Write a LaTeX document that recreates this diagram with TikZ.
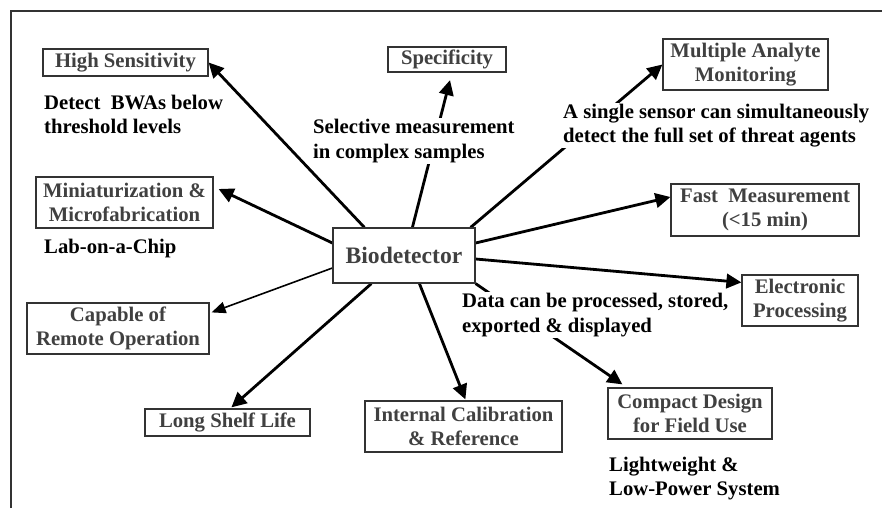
\documentclass[tikz,border=0pt]{standalone}
\usepackage{fontspec}
\setmainfont{Liberation Serif}
\usetikzlibrary{arrows.meta,calc,backgrounds}
\definecolor{boxgray}{gray}{0.2}
\definecolor{boxtext}{gray}{0.25}
\definecolor{framec}{gray}{0.2}
\begin{document}
\begin{tikzpicture}[x=1pt,y=-1pt,
  box/.style={draw=boxgray, line width=1.2pt, fill=white, inner sep=0pt, align=center, text=boxtext, font=\bfseries\fontsize{20.7}{24.5}\selectfont},
  note/.style={anchor=west, align=left, inner sep=1pt, font=\bfseries\fontsize{20.7}{24.5}\selectfont, text=black},
  gap/.style={fill=white},
  arr/.style={-{Triangle[length=15pt,width=14.5pt]}, line width=2.8pt},
  thinarr/.style={-{Triangle[length=14pt,width=11.5pt]}, line width=1.6pt}]
\useasboundingbox (0,0) rectangle (882,508);
\draw[framec, line width=1.5pt] (11,508) -- (11,11) -- (882,11);

% boxes
\node[box, minimum width=165pt, minimum height=27pt] (hs) at (125.5,62.5) {High Sensitivity};
\node[box, minimum width=118pt, minimum height=25pt] (spec) at (447,59.5) {Specificity};
\node[box, minimum width=165pt, minimum height=51pt] (multi) at (745.5,64.5) {Multiple Analyte\\Monitoring};
\node[box, minimum width=177pt, minimum height=51pt] (mini) at (124.5,202.5) {Miniaturization \&\\Microfabrication};
\node[box, minimum width=142pt, minimum height=55pt, font=\bfseries\fontsize{23.6}{27}\selectfont] (bio) at (404,255.5) {Biodetector};
\node[box, minimum width=188pt, minimum height=52pt] (fast) at (765,210) {Fast~ Measurement\\(<15 min)};
\node[box, minimum width=116pt, minimum height=51pt] (elec) at (800,300.5) {Electronic\\Processing};
\node[box, minimum width=182pt, minimum height=51pt] (cap) at (118,328.5) {Capable of\\Remote Operation};
\node[box, minimum width=165pt, minimum height=27pt] (lsl) at (227.5,422.5) {Long Shelf Life};
\node[box, minimum width=197pt, minimum height=51pt] (ical) at (463.5,426.5) {Internal Calibration\\\& Reference};
\node[box, minimum width=164pt, minimum height=51pt] (comp) at (690,413.5) {Compact Design\\for Field Use};

% notes
\node[note] (n1) at (43,114.5) {Detect~ BWAs below\\threshold levels};
\node[note, gap] (n2) at (312,141) {Selective measurement\\in complex samples};
\node[note, gap] (n3) at (562,125.5) {A single sensor can simultaneously\\detect the full set of threat agents};
\node[note] (n4) at (43,249) {Lab-on-a-Chip};
\node[note, gap] (n5) at (461,315) {Data can be processed, stored,\\exported \& displayed};
\node[note] (n6) at (608,478.5) {Lightweight \&\\Low-Power System};

% connectors
\begin{scope}[on background layer]
\draw[arr] ($(bio.north west)+(32,0)$) -- (hs.east);
\draw[arr] ($(bio.north west)+(80,0)$) -- ($(spec.south)+(3,7.5)$);
\draw[arr] ($(bio.north east)+(-5,0)$) -- (multi.west);
\draw[arr] ($(bio.east)+(0,-12.5)$) -- ($(fast.west)+(0,-13)$);
\draw[arr] ($(bio.east)+(0,3.5)$) -- ($(elec.north west)+(0,8)$);
\draw[arr] (bio.south east) -- ($(comp.north west)+(15,-3)$);
\draw[arr] ($(bio.south west)+(87,0)$) -- ($(ical.north west)+(101,-1)$);
\draw[arr] ($(bio.south west)+(39,0)$) -- ($(lsl.north west)+(87,-1)$);
\draw[thinarr] ($(bio.west)+(0,12.5)$) -- ($(cap.north east)+(2,10)$);
\draw[arr] ($(bio.west)+(0,-12.5)$) -- ($(mini.east)+(5,-13.5)$);
\end{scope}
\end{tikzpicture}
\end{document}
